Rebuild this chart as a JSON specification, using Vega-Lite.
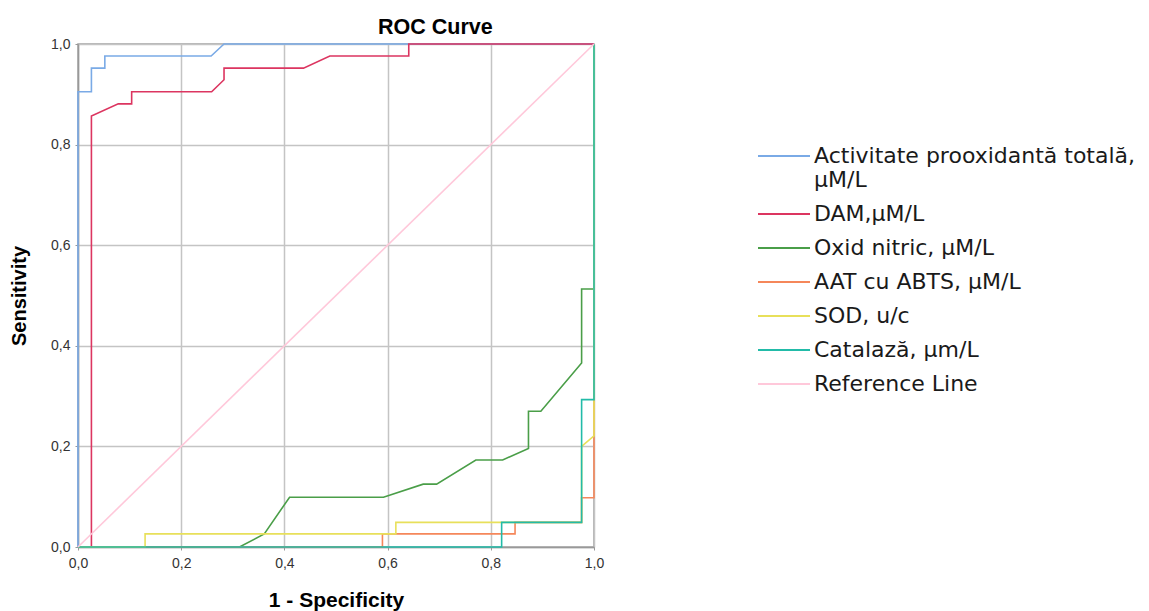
{
  "$schema": "https://vega.github.io/schema/vega-lite/v6.json",
  "width": 516,
  "height": 503,
  "autosize": {"type": "none"},
  "padding": {"left": 78, "top": 44, "right": 555, "bottom": 64},
  "background": "white",
  "title": {"text": "ROC Curve", "anchor": "start", "frame": "group", "dx": 300, "fontSize": 21.5, "font": "Liberation Sans", "fontWeight": "bold", "color": "#000000", "offset": -1},
  "config": {
    "view": {"stroke": "#a0a0a0", "strokeWidth": 1.5},
    "axis": {"labelFont": "Liberation Sans", "titleFont": "Liberation Sans", "labelColor": "#333333", "titleColor": "#000000", "gridColor": "#c4c4c4", "gridWidth": 1.5, "domainColor": "#999999", "domainWidth": 1.5, "tickColor": "#999999", "tickSize": 3, "labelFontSize": 14, "titleFontWeight": "bold", "labelFlush": false}
  },
  "data": {"values": [
    {"s": "Activitate prooxidantă totală, µM/L", "i": 0, "x": 0, "y": 0},
    {"s": "Activitate prooxidantă totală, µM/L", "i": 1, "x": 0, "y": 0.905},
    {"s": "Activitate prooxidantă totală, µM/L", "i": 2, "x": 0.026, "y": 0.905},
    {"s": "Activitate prooxidantă totală, µM/L", "i": 3, "x": 0.026, "y": 0.952},
    {"s": "Activitate prooxidantă totală, µM/L", "i": 4, "x": 0.052, "y": 0.952},
    {"s": "Activitate prooxidantă totală, µM/L", "i": 5, "x": 0.052, "y": 0.976},
    {"s": "Activitate prooxidantă totală, µM/L", "i": 6, "x": 0.258, "y": 0.976},
    {"s": "Activitate prooxidantă totală, µM/L", "i": 7, "x": 0.283, "y": 1},
    {"s": "Activitate prooxidantă totală, µM/L", "i": 8, "x": 1, "y": 1},
    {"s": "DAM,µM/L", "i": 0, "x": 0, "y": 0},
    {"s": "DAM,µM/L", "i": 1, "x": 0.026, "y": 0},
    {"s": "DAM,µM/L", "i": 2, "x": 0.026, "y": 0.857},
    {"s": "DAM,µM/L", "i": 3, "x": 0.078, "y": 0.881},
    {"s": "DAM,µM/L", "i": 4, "x": 0.104, "y": 0.881},
    {"s": "DAM,µM/L", "i": 5, "x": 0.104, "y": 0.905},
    {"s": "DAM,µM/L", "i": 6, "x": 0.259, "y": 0.905},
    {"s": "DAM,µM/L", "i": 7, "x": 0.283, "y": 0.929},
    {"s": "DAM,µM/L", "i": 8, "x": 0.283, "y": 0.952},
    {"s": "DAM,µM/L", "i": 9, "x": 0.437, "y": 0.952},
    {"s": "DAM,µM/L", "i": 10, "x": 0.488, "y": 0.976},
    {"s": "DAM,µM/L", "i": 11, "x": 0.641, "y": 0.976},
    {"s": "DAM,µM/L", "i": 12, "x": 0.641, "y": 1},
    {"s": "DAM,µM/L", "i": 13, "x": 1, "y": 1},
    {"s": "Oxid nitric, µM/L", "i": 0, "x": 0, "y": 0},
    {"s": "Oxid nitric, µM/L", "i": 1, "x": 0.313, "y": 0},
    {"s": "Oxid nitric, µM/L", "i": 2, "x": 0.361, "y": 0.026},
    {"s": "Oxid nitric, µM/L", "i": 3, "x": 0.41, "y": 0.099},
    {"s": "Oxid nitric, µM/L", "i": 4, "x": 0.592, "y": 0.099},
    {"s": "Oxid nitric, µM/L", "i": 5, "x": 0.669, "y": 0.125},
    {"s": "Oxid nitric, µM/L", "i": 6, "x": 0.695, "y": 0.125},
    {"s": "Oxid nitric, µM/L", "i": 7, "x": 0.771, "y": 0.173},
    {"s": "Oxid nitric, µM/L", "i": 8, "x": 0.823, "y": 0.173},
    {"s": "Oxid nitric, µM/L", "i": 9, "x": 0.873, "y": 0.196},
    {"s": "Oxid nitric, µM/L", "i": 10, "x": 0.873, "y": 0.27},
    {"s": "Oxid nitric, µM/L", "i": 11, "x": 0.897, "y": 0.27},
    {"s": "Oxid nitric, µM/L", "i": 12, "x": 0.976, "y": 0.366},
    {"s": "Oxid nitric, µM/L", "i": 13, "x": 0.976, "y": 0.513},
    {"s": "Oxid nitric, µM/L", "i": 14, "x": 1, "y": 0.513},
    {"s": "Oxid nitric, µM/L", "i": 15, "x": 1, "y": 1},
    {"s": "AAT cu ABTS, µM/L", "i": 0, "x": 0, "y": 0},
    {"s": "AAT cu ABTS, µM/L", "i": 1, "x": 0.59, "y": 0},
    {"s": "AAT cu ABTS, µM/L", "i": 2, "x": 0.59, "y": 0.026},
    {"s": "AAT cu ABTS, µM/L", "i": 3, "x": 0.847, "y": 0.026},
    {"s": "AAT cu ABTS, µM/L", "i": 4, "x": 0.847, "y": 0.049},
    {"s": "AAT cu ABTS, µM/L", "i": 5, "x": 0.976, "y": 0.049},
    {"s": "AAT cu ABTS, µM/L", "i": 6, "x": 0.976, "y": 0.098},
    {"s": "AAT cu ABTS, µM/L", "i": 7, "x": 1, "y": 0.098},
    {"s": "AAT cu ABTS, µM/L", "i": 8, "x": 1, "y": 1},
    {"s": "SOD, u/c", "i": 0, "x": 0, "y": 0},
    {"s": "SOD, u/c", "i": 1, "x": 0.13, "y": 0},
    {"s": "SOD, u/c", "i": 2, "x": 0.13, "y": 0.026},
    {"s": "SOD, u/c", "i": 3, "x": 0.616, "y": 0.026},
    {"s": "SOD, u/c", "i": 4, "x": 0.616, "y": 0.049},
    {"s": "SOD, u/c", "i": 5, "x": 0.976, "y": 0.049},
    {"s": "SOD, u/c", "i": 6, "x": 0.976, "y": 0.2},
    {"s": "SOD, u/c", "i": 7, "x": 1, "y": 0.221},
    {"s": "SOD, u/c", "i": 8, "x": 1, "y": 1},
    {"s": "Catalază, µm/L", "i": 0, "x": 0, "y": 0},
    {"s": "Catalază, µm/L", "i": 1, "x": 0.821, "y": 0},
    {"s": "Catalază, µm/L", "i": 2, "x": 0.821, "y": 0.049},
    {"s": "Catalază, µm/L", "i": 3, "x": 0.976, "y": 0.049},
    {"s": "Catalază, µm/L", "i": 4, "x": 0.976, "y": 0.293},
    {"s": "Catalază, µm/L", "i": 5, "x": 1, "y": 0.293},
    {"s": "Catalază, µm/L", "i": 6, "x": 1, "y": 1},
    {"s": "Reference Line", "i": 0, "x": 0, "y": 0},
    {"s": "Reference Line", "i": 1, "x": 1, "y": 1}
  ]},
  "mark": {"type": "line", "strokeWidth": 1.6, "clip": false},
  "encoding": {
    "x": {"field": "x", "type": "quantitative", "title": "1 - Specificity", "scale": {"domain": [0, 1], "nice": false, "zero": false},
      "axis": {"values": [0, 0.2, 0.4, 0.6, 0.8, 1], "labelExpr": "replace(format(datum.value, '.1f'), '.', ',')", "titlePadding": 19, "labelPadding": 6, "titleFontSize": 21}},
    "y": {"field": "y", "type": "quantitative", "title": "Sensitivity", "scale": {"domain": [0, 1], "nice": false, "zero": false},
      "axis": {"values": [0, 0.2, 0.4, 0.6, 0.8, 1], "labelExpr": "replace(format(datum.value, '.1f'), '.', ',')", "titlePadding": 21, "labelPadding": 5, "titleFontSize": 20}},
    "color": {"field": "s", "type": "nominal", "sort": null,
      "scale": {"domain": ["Activitate prooxidantă totală, µM/L", "DAM,µM/L", "Oxid nitric, µM/L", "AAT cu ABTS, µM/L", "SOD, u/c", "Catalază, µm/L", "Reference Line"],
        "range": ["#7aaae6", "#dc3560", "#4a9e48", "#f5875a", "#e8e05a", "#22bba8", "#ffc8da"]},
      "legend": {"title": null, "orient": "none", "legendX": 692, "legendY": 98, "symbolType": "M-2,0H2", "symbolSize": 676, "symbolStrokeWidth": 2, "labelFont": "DejaVu Sans", "labelFontSize": 22, "labelColor": "#1a1a1a", "labelLimit": 420, "labelOffset": 16, "rowPadding": 9,
        "labelExpr": "datum.label == 'Activitate prooxidantă totală, µM/L' ? ['Activitate prooxidantă totală,', 'µM/L'] : datum.label"}},
    "order": {"field": "i", "type": "quantitative"}
  }
}
